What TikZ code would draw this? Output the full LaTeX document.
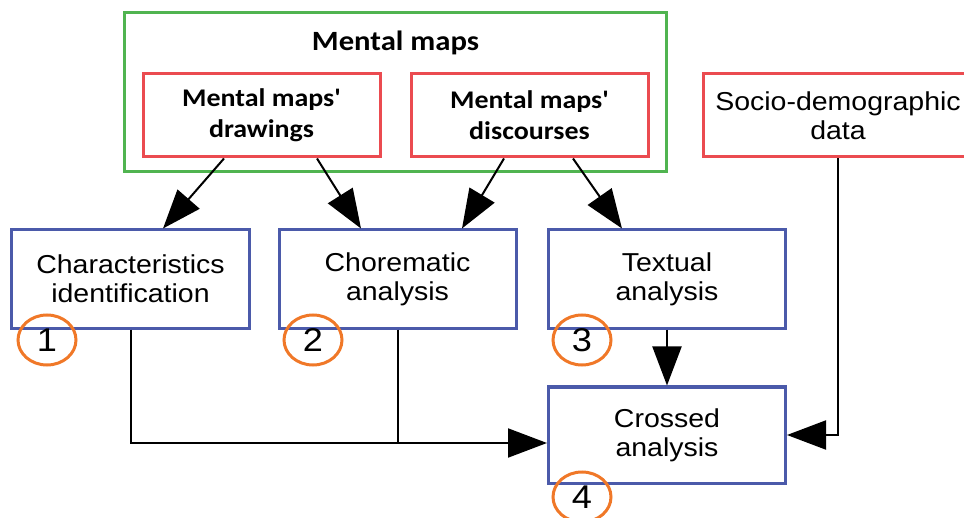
\documentclass[tikz,border=0pt]{standalone}
\usepackage{fontspec}
\setmainfont{Liberation Sans}[FakeStretch=1.1]
\newfontfamily\calfont{Carlito}[FakeStretch=1.1]
\usetikzlibrary{arrows.meta, shapes.geometric}

\definecolor{mapgreen}{RGB}{80,180,80}
\definecolor{mapred}{RGB}{235,75,80}
\definecolor{mapblue}{RGB}{75,90,170}
\definecolor{maporange}{RGB}{240,120,40}

\tikzset{
    greenbox/.style={draw=mapgreen, line width=3bp, rectangle, inner sep=0pt},
    redbox/.style={draw=mapred, line width=3bp, rectangle, inner sep=0pt, minimum height=83bp, align=center},
    bluebox/.style={draw=mapblue, line width=3bp, rectangle, inner sep=0pt, minimum width=237bp, minimum height=98bp, align=center,
        font=\fontsize{26}{29}\selectfont},
    boldtext/.style={font=\calfont\bfseries\fontsize{25.5}{31}\selectfont},
    numcircle/.style={draw=maporange, line width=3bp, ellipse, inner sep=0pt, minimum width=58bp, minimum height=50bp,
        font=\fontsize{33}{33}\selectfont},
    arr/.style={line width=2bp, -{Triangle[length=39bp, width=29bp]}},
    plainline/.style={line width=2bp}
}

\begin{document}
\begin{tikzpicture}[x=1bp, y=-1bp]
    \useasboundingbox (0,0) rectangle (964,518);

    % mental maps group
    \node[greenbox, minimum width=541bp, minimum height=159bp] (maps) at (395.5,92.5) {};
    \node[boldtext, font=\calfont\bfseries\fontsize{28}{31}\selectfont] (title) at (395.5,43) {Mental maps};
    \node[redbox, boldtext, minimum width=237bp] (drw) at (261.5,115.5) {Mental maps'\\drawings};
    \node[redbox, boldtext, minimum width=237bp] (disc) at (529.5,115.5) {Mental maps'\\discourses};
    \node[redbox, minimum width=270bp, font=\fontsize{26}{29}\selectfont] (socio) at (838,115.5) {Socio-demographic\\data};

    % analyses
    \node[bluebox] (char) at (130.5,279) {Characteristics\\identification};
    \node[bluebox] (chor) at (397.5,279) {Chorematic\\analysis};
    \node[bluebox] (txt) at (667,279) {Textual\\analysis};
    \node[bluebox, minimum height=96bp] (cross) at (667,435) {Crossed\\analysis};

    \node[numcircle] (n1) at (47,340) {1};
    \node[numcircle] (n2) at (313,340) {2};
    \node[numcircle] (n3) at (582,340) {3};
    \node[numcircle] (n4) at (582,497) {4};

    % connectors
    \draw[arr] ([xshift=-37.5bp]drw.south) -- ([xshift=32.5bp]char.north);
    \draw[arr] ([xshift=55.5bp]drw.south) -- ([xshift=-36.5bp]chor.north);
    \draw[arr] ([xshift=-25.5bp]disc.south) -- ([xshift=64.5bp]chor.north);
    \draw[arr] ([xshift=43.5bp]disc.south) -- ([xshift=-45bp]txt.north);
    \draw[arr] (txt.south) -- (cross.north);
    \draw[arr] (socio.south) |- (cross.east);

    \coordinate (jn) at ([yshift=-8bp]cross.west);
    \draw[arr] (char.south) |- (jn);
    \draw[plainline] (chor.south) -- (chor.south |- jn);
\end{tikzpicture}
\end{document}
